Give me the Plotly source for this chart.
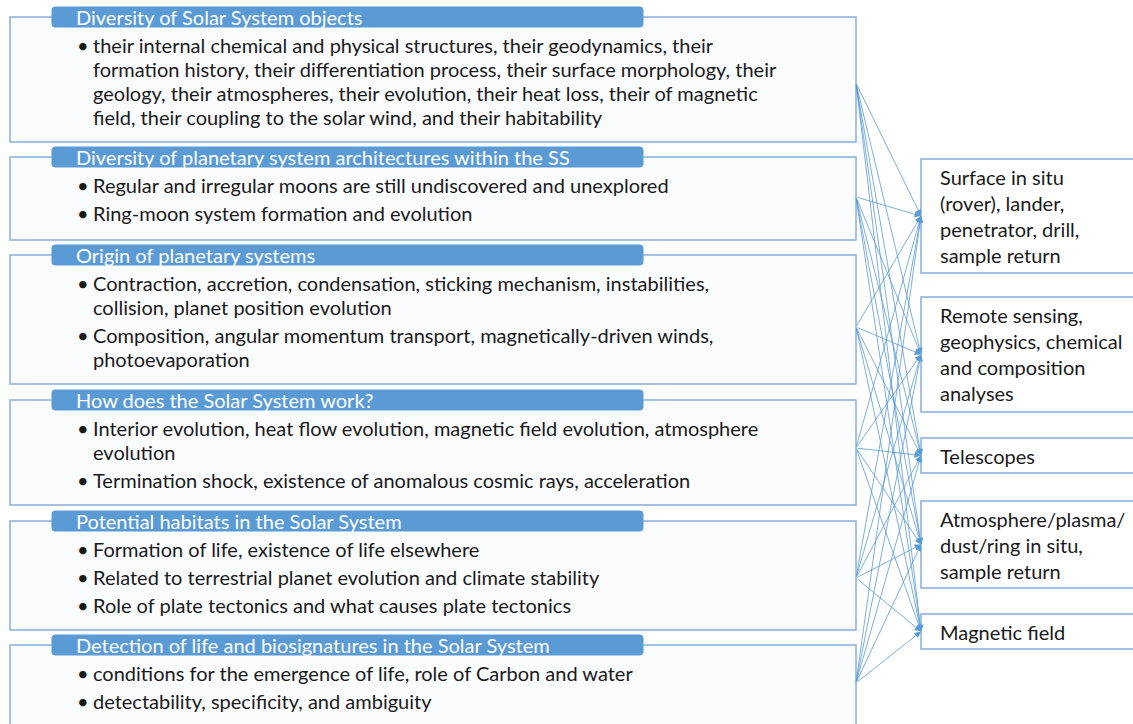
import plotly.graph_objects as go

# left-hand science themes and their bullet points (pre-wrapped as in the figure)
themes = [
    "Diversity of Solar System objects",
    "Diversity of planetary system architectures within the SS",
    "Origin of planetary systems",
    "How does the Solar System work?",
    "Potential habitats in the Solar System",
    "Detection of life and biosignatures in the Solar System",
]
bullets = [
    [["their internal chemical and physical structures, their geodynamics, their",
      "formation history, their differentiation process, their surface morphology, their",
      "geology, their atmospheres, their evolution, their heat loss, their of magnetic",
      "field, their coupling to the solar wind, and their habitability"]],
    [["Regular and irregular moons are still undiscovered and unexplored"],
     ["Ring-moon system formation and evolution"]],
    [["Contraction, accretion, condensation, sticking mechanism, instabilities,",
      "collision, planet position evolution"],
     ["Composition, angular momentum transport, magnetically-driven winds,",
      "photoevaporation"]],
    [["Interior evolution, heat flow evolution, magnetic field evolution, atmosphere",
      "evolution"],
     ["Termination shock, existence of anomalous cosmic rays, acceleration"]],
    [["Formation of life, existence of life elsewhere"],
     ["Related to terrestrial planet evolution and climate stability"],
     ["Role of plate tectonics and what causes plate tectonics"]],
    [["conditions for the emergence of life, role of Carbon and water"],
     ["detectability, specificity, and ambiguity"]],
]
# right-hand measurement types
methods = [
    ["Surface in situ", "(rover), lander,", "penetrator, drill,", "sample return"],
    ["Remote sensing,", "geophysics, chemical", "and composition", "analyses"],
    ["Telescopes"],
    ["Atmosphere/plasma/", "dust/ring in situ,", "sample return"],
    ["Magnetic field"],
]
# every theme links to every method
links = [(i, j) for i in range(len(themes)) for j in range(len(methods))]

# ---- layout geometry (screen pixels, y downward) ----
W, H = 1133, 724
BLUE = "#5B9BD5"
EDGE = "#86AEDD"
TXT = "#1A1A1A"
FONT = "Lato"
FS = 20

box_l, box_r = 10, 856
hdr_l, hdr_r = 52, 643
hdr_y = [17, 157, 255, 400, 521, 645]
box_b = [142, 240, 384, 505, 630, 760]
src_y = [83, 197, 327, 448, 578, 683]

rb_l, rb_r = 921, 1160
rb_t = [159, 297, 438, 501, 614]
rb_b = [273, 412, 473, 588, 649]

fig = go.Figure()
fig.add_trace(go.Scatter(x=[0, W], y=[0, H], mode="markers",
                         marker=dict(opacity=0), hoverinfo="skip", showlegend=False))

shapes = []
annotations = []

# arrows first so boxes sit on top
for i, j in links:
    ty = (rb_t[j] + rb_b[j]) / 2
    annotations.append(dict(
        x=rb_l, y=ty, ax=box_r, ay=src_y[i], xref="x", yref="y", axref="x", ayref="y",
        text="", showarrow=True, arrowhead=2, arrowsize=1.6, arrowwidth=0.8,
        arrowcolor=BLUE, standoff=0, startstandoff=0))

def rounded(x0, y0, x1, y1, r):
    return (f"M {x0+r},{y0} L {x1-r},{y0} Q {x1},{y0} {x1},{y0+r} L {x1},{y1-r} "
            f"Q {x1},{y1} {x1-r},{y1} L {x0+r},{y1} Q {x0},{y1} {x0},{y1-r} "
            f"L {x0},{y0+r} Q {x0},{y0} {x0+r},{y0} Z")

for k, title in enumerate(themes):
    top = hdr_y[k]
    shapes.append(dict(type="rect", x0=box_l, x1=box_r, y0=top, y1=box_b[k],
                       xref="x", yref="y", line=dict(color=EDGE, width=1.5),
                       fillcolor="#FBFCFE", layer="above"))
    shapes.append(dict(type="path", path=rounded(hdr_l, top - 10, hdr_r, top + 10, 3),
                       xref="x", yref="y", line=dict(color=BLUE, width=1),
                       fillcolor=BLUE, layer="above"))
    annotations.append(dict(x=hdr_l + 22, y=top, xref="x", yref="y", text=title,
                            showarrow=False, xanchor="left", yanchor="middle",
                            font=dict(family=FONT, size=FS, color="white")))
    y = top + 28
    for b in bullets[k]:
        annotations.append(dict(x=75, y=y, xref="x", yref="y", text="•",
                                showarrow=False, xanchor="left", yanchor="middle",
                                font=dict(family=FONT, size=FS, color=TXT)))
        for n, line in enumerate(b):
            annotations.append(dict(x=91, y=y, xref="x", yref="y", text=line,
                                    showarrow=False, xanchor="left", yanchor="middle",
                                    font=dict(family=FONT, size=FS, color=TXT)))
            y += 24
        y += 4

for j, lines in enumerate(methods):
    shapes.append(dict(type="rect", x0=rb_l, x1=rb_r, y0=rb_t[j], y1=rb_b[j],
                       xref="x", yref="y", line=dict(color=EDGE, width=1.5),
                       fillcolor="white", layer="above"))
    for n, line in enumerate(lines):
        annotations.append(dict(x=rb_l + 17, y=rb_t[j] + 18 + 26 * n, xref="x", yref="y",
                                text=line, showarrow=False, xanchor="left", yanchor="middle",
                                font=dict(family=FONT, size=FS, color=TXT)))

fig.update_layout(
    width=W, height=H, margin=dict(l=0, r=0, t=0, b=0),
    paper_bgcolor="white", plot_bgcolor="white",
    shapes=shapes, annotations=annotations, showlegend=False,
    xaxis=dict(range=[0, W], visible=False, fixedrange=True),
    yaxis=dict(range=[H, 0], visible=False, fixedrange=True),
)
# drop the page's default body margin so the figure fills the window exactly
fig.write_html("out.html", config={"displayModeBar": False},
               post_script="document.body.style.margin='0';document.body.style.overflow='hidden';")
